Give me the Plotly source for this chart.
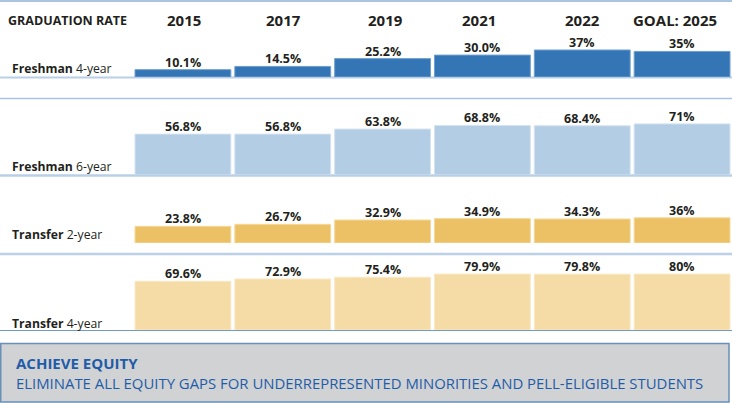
import plotly.graph_objects as go

# ---------------- data ----------------
years = ["2015", "2017", "2019", "2021", "2022", "GOAL: 2025"]
header_title = "GRADUATION RATE"

row_bold = ["Freshman", "Freshman", "Transfer", "Transfer"]
row_rest = ["4-year", "6-year", "2-year", "4-year"]

fresh4 = [10.1, 14.5, 25.2, 30.0, 37, 35]
fresh6 = [56.8, 56.8, 63.8, 68.8, 68.4, 71]
trans2 = [23.8, 26.7, 32.9, 34.9, 34.3, 36]
trans4 = [69.6, 72.9, 75.4, 79.9, 79.8, 80]

fresh4_lbl = ["10.1%", "14.5%", "25.2%", "30.0%", "37%", "35%"]
fresh6_lbl = ["56.8%", "56.8%", "63.8%", "68.8%", "68.4%", "71%"]
trans2_lbl = ["23.8%", "26.7%", "32.9%", "34.9%", "34.3%", "36%"]
trans4_lbl = ["69.6%", "72.9%", "75.4%", "79.9%", "79.8%", "80%"]

box_title = "ACHIEVE EQUITY"
box_text = "ELIMINATE ALL EQUITY GAPS FOR UNDERREPRESENTED MINORITIES AND PELL-ELIGIBLE STUDENTS"

# ---------------- layout helpers ----------------
W, H = 732, 403
FONT = "Open Sans, Noto Sans, Arial, sans-serif"
DARK = "#231f20"


def py(px):
    return 1 - px / H


def pxx(px):
    return px / W


rows = [
    (fresh4, fresh4_lbl, "#3476b5", "#6f9fce", 77, 0.73),
    (fresh6, fresh6_lbl, "#b3cde4", "#d4e3f1", 175, 0.72),
    (trans2, trans2_lbl, "#ecc166", "#f5d999", 243, 0.70),
    (trans4, trans4_lbl, "#f5dca6", "#fae9c6", 330, 0.70),
]
label_y = [69, 166, 235, 323]

fig = go.Figure()
layout_axes = {}
ann = []
for i, (vals, lbls, col, edge, base, scale) in enumerate(rows):
    yname = "y" if i == 0 else f"y{i+1}"
    axkey = "yaxis" if i == 0 else f"yaxis{i+1}"
    top = base - 100 * scale
    fig.add_trace(go.Bar(
        x=list(range(len(years))), y=vals,
        marker=dict(color=col, line=dict(color=edge, width=1)),
        cliponaxis=False, xaxis="x", yaxis=yname, hoverinfo="skip",
        showlegend=False,
    ))
    layout_axes[axkey] = dict(
        domain=[py(base), py(top)], range=[0, 100], anchor="x",
        visible=True, showticklabels=False, showline=False, zeroline=False,
        ticks="", showgrid=True, gridcolor="rgba(255,255,255,0.4)", gridwidth=1,
        tick0=4, dtick=11, layer="above traces", fixedrange=True,
    )
    for j, (v, t) in enumerate(zip(vals, lbls)):
        ann.append(dict(text=f"<b>{t}</b>", x=j, y=v, xref="x", yref=yname,
                        xanchor="center", yanchor="bottom", yshift=-3,
                        showarrow=False,
                        font=dict(family=FONT, size=12.5, color=DARK)))

fig.update_layout(
    width=W, height=H,
    margin=dict(l=0, r=0, t=0, b=0),
    paper_bgcolor="white", plot_bgcolor="rgba(0,0,0,0)",
    bargap=0.04,
    xaxis=dict(domain=[pxx(133), 1], visible=False,
               range=[-0.5, len(years) - 0.5], autorange=False, fixedrange=True),
    **layout_axes,
)

# header
ann.append(dict(text=f"<b>{header_title}</b>", x=pxx(6), y=py(20), xref="paper",
                yref="paper", xanchor="left", yanchor="middle", showarrow=False,
                font=dict(family=FONT, size=12.5, color=DARK)))
header_shift = [1, 1, 3, -3, 0, -7]
for i, yr in enumerate(years):
    ann.append(dict(text=f"<b>{yr}</b>", x=i, y=py(20), xref="x", yref="paper",
                    xanchor="center", yanchor="middle", showarrow=False,
                    xshift=header_shift[i],
                    font=dict(family=FONT, size=15, color=DARK)))
# row labels
for b, r, ly in zip(row_bold, row_rest, label_y):
    ann.append(dict(text=f"<b>{b}</b> {r}", x=pxx(10), y=py(ly), xref="paper",
                    yref="paper", xanchor="left", yanchor="middle", showarrow=False,
                    font=dict(family=FONT, size=12.2, color=DARK)))
# bottom box texts
BLUE = "#1f5ca8"
ann.append(dict(text=f"<b>{box_title}</b>", x=pxx(14), y=py(363), xref="paper",
                yref="paper", xanchor="left", yanchor="middle", showarrow=False,
                font=dict(family=FONT, size=15, color=BLUE)))
ann.append(dict(text=box_text, x=pxx(14), y=py(383), xref="paper",
                yref="paper", xanchor="left", yanchor="middle", showarrow=False,
                font=dict(family=FONT, size=14.9, color=BLUE)))

shapes = []


def hline(ypx, color, width):
    shapes.append(dict(type="line", xref="paper", yref="paper", x0=0, x1=1,
                       y0=py(ypx), y1=py(ypx), line=dict(color=color, width=width),
                       layer="below"))


hline(1, "#8fb0d6", 1.5)
hline(77.5, "#b9cfe7", 2)
hline(98.5, "#a9c4e2", 1.5)
hline(175.5, "#b9cfe7", 2.5)
hline(254, "#bcd0e6", 2.5)
hline(330.5, "#6f9bcc", 1)
shapes.append(dict(type="rect", xref="paper", yref="paper", x0=pxx(0.75), x1=pxx(729),
                   y0=py(402), y1=py(343.5), fillcolor="#d1d2d4",
                   line=dict(color="#6a8fb8", width=1.5), layer="below"))

fig.update_layout(annotations=ann, shapes=shapes)
fig.write_html(
    "out.html",
    config={"displayModeBar": False},
    post_script="document.body.style.margin='0';document.body.style.padding='0';",
)
